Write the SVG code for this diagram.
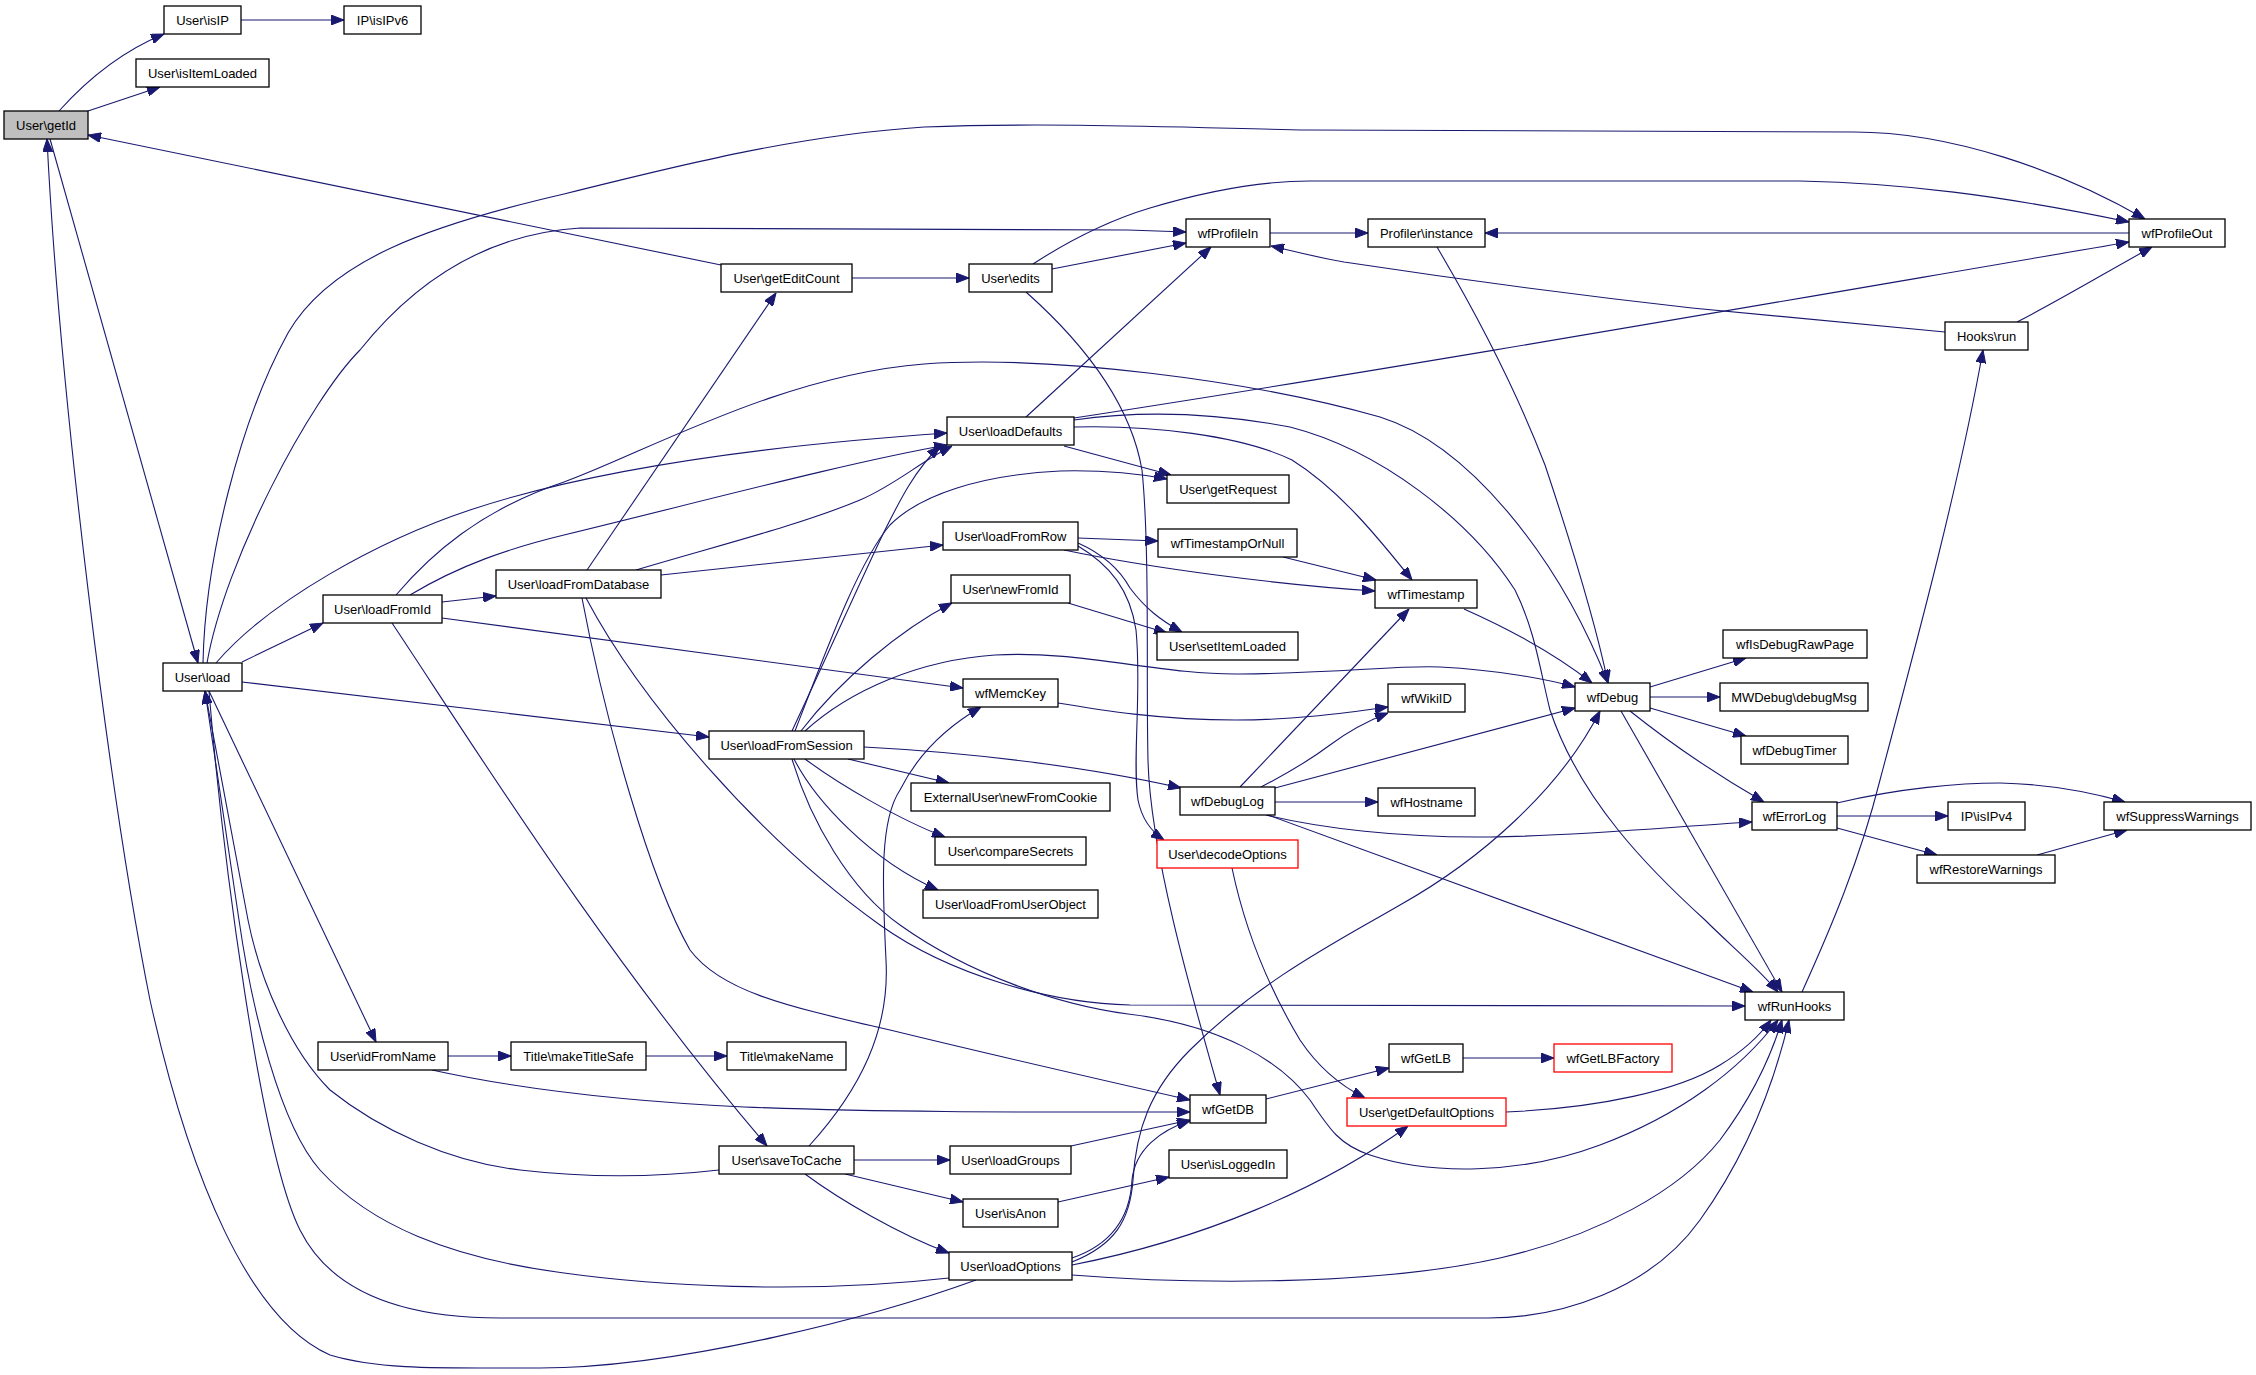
<svg xmlns="http://www.w3.org/2000/svg" width="2256" height="1375" viewBox="0 0 2256 1375">
<style>
.node rect{fill:#ffffff;stroke:#000000;stroke-width:1.3}
.node.root rect{fill:#bfbfbf}
.node.red rect{stroke:#ff0000}
.node text{font-family:"Liberation Sans",Arial,sans-serif;font-size:13px;fill:#000000;text-anchor:middle}
.edges path{fill:none;stroke:#191970;stroke-width:1.1;marker-end:url(#ah)}
</style>
<defs>
<marker id="ah" markerWidth="13" markerHeight="10" refX="13" refY="5" orient="auto" markerUnits="userSpaceOnUse" viewBox="0 0 13 10"><path d="M0,0 L13,5 L0,10 z" fill="#191970" stroke="#191970" stroke-width="1"/></marker>
</defs>
<rect x="0" y="0" width="2256" height="1375" fill="#ffffff"/>
<g class="edges" id="edges">
<path d="M59,111 C85,82 120,52 164,34"/>
<path d="M88,111 L160,87"/>
<path d="M50,139 L198,663"/>
<path d="M976,1280 C880,1315 680,1368 540,1368 C440,1368 380,1370 330,1355 C250,1320 190,1180 150,1000 C110,800 60,400 47,139"/>
<path d="M721,265 L88,135"/>
<path d="M203,663 C205,560 240,420 288,333 C330,260 430,225 564,194 C680,165 800,135 924,127 C1050,122 1200,128 1308,130 L1854,132 C1950,132 2060,170 2145,219"/>
<path d="M207,663 C225,560 310,400 360,350 C400,300 470,235 580,228 L1128,230 L1186,232"/>
<path d="M216,663 C270,600 380,540 470,510 C560,480 700,450 947,433"/>
<path d="M242,662 L323,623"/>
<path d="M242,682 L709,737"/>
<path d="M209,691 L376,1042"/>
<path d="M209,691 C222,850 260,1150 300,1230 C330,1290 400,1318 500,1318 L1488,1318 C1560,1318 1650,1290 1700,1220 C1750,1150 1775,1080 1789,1020"/>
<path d="M949,1278 C800,1295 650,1285 564,1273 C450,1258 370,1225 320,1170 C280,1125 252,1010 239,920 L205,691"/>
<path d="M719,1170 C650,1178 580,1177 520,1170 C450,1162 380,1130 330,1090 C290,1050 260,980 248,920 L205,691"/>
<path d="M442,602 L496,596"/>
<path d="M396,595 C430,555 480,510 564,482 C640,455 780,375 924,364 C1050,355 1250,380 1380,417 C1470,445 1560,560 1608,683"/>
<path d="M410,595 C460,565 510,548 564,535 C700,502 850,462 947,445"/>
<path d="M442,618 L963,688"/>
<path d="M392,623 C470,740 600,950 767,1146"/>
<path d="M587,570 L776,293"/>
<path d="M636,570 C720,545 800,525 860,500 C895,485 920,462 952,446"/>
<path d="M661,575 L943,545"/>
<path d="M582,598 C605,720 650,880 690,950 C720,990 780,1005 890,1030 C980,1052 1080,1075 1190,1100"/>
<path d="M586,598 C640,700 760,840 880,925 C950,975 1050,1003 1130,1005 L1745,1006"/>
<path d="M792,759 C810,820 850,890 900,925 C970,975 1060,1005 1128,1014 C1220,1025 1280,1060 1310,1100 C1330,1130 1340,1145 1370,1155 C1430,1175 1520,1175 1600,1145 C1680,1115 1740,1070 1778,1020"/>
<path d="M792,731 C830,650 870,560 885,530 C900,500 915,470 940,446"/>
<path d="M795,731 C830,640 860,560 890,525 C920,495 980,475 1060,471 C1100,470 1140,474 1167,479"/>
<path d="M801,731 C840,680 900,630 952,603"/>
<path d="M805,731 C850,690 920,660 995,655 C1080,650 1160,675 1240,674 C1340,673 1400,665 1440,667 C1500,670 1550,680 1575,687"/>
<path d="M864,747 C960,752 1080,765 1181,788"/>
<path d="M848,759 L949,783"/>
<path d="M805,759 C840,785 900,820 945,837"/>
<path d="M794,759 C815,800 870,860 938,890"/>
<path d="M809,1146 C860,1090 890,1030 886,960 C882,880 880,820 900,790 C920,750 950,725 981,707"/>
<path d="M854,1160 L950,1160"/>
<path d="M845,1174 L963,1202"/>
<path d="M805,1174 C840,1200 900,1235 949,1253"/>
<path d="M1071,1146 L1190,1120"/>
<path d="M1058,1202 L1169,1177"/>
<path d="M448,1056 L511,1056"/>
<path d="M646,1056 L727,1056"/>
<path d="M432,1070 C500,1085 600,1100 744,1107 C900,1113 1050,1112 1190,1112"/>
<path d="M1072,1258 C1110,1245 1130,1220 1132,1180 C1135,1150 1160,1130 1190,1121"/>
<path d="M1072,1262 C1115,1245 1130,1220 1133,1180 C1136,1130 1150,1090 1190,1050 C1260,980 1340,940 1400,905 C1480,860 1560,790 1600,711"/>
<path d="M1072,1265 C1200,1240 1320,1190 1408,1126"/>
<path d="M1072,1275 C1200,1285 1380,1285 1500,1258 C1600,1235 1680,1190 1720,1140 C1750,1100 1770,1060 1782,1020"/>
<path d="M1232,868 C1245,930 1270,990 1300,1040 C1320,1070 1345,1088 1365,1098"/>
<path d="M1506,1112 C1600,1108 1680,1090 1720,1065 C1745,1050 1760,1035 1771,1020"/>
<path d="M1266,1099 L1389,1068"/>
<path d="M1463,1058 L1554,1058"/>
<path d="M1026,292 C1080,340 1130,400 1142,470 C1150,550 1146,680 1148,760 C1150,850 1190,990 1220,1095"/>
<path d="M852,278 L969,278"/>
<path d="M1052,269 L1186,243"/>
<path d="M1033,264 C1070,240 1110,220 1150,208 C1210,190 1260,181 1310,181 L1800,181 C1900,183 2000,195 2129,222"/>
<path d="M1026,417 L1211,247"/>
<path d="M1074,418 C1400,368 1800,298 2129,242"/>
<path d="M1074,420 C1130,412 1200,410 1290,427 C1380,450 1470,520 1515,590 C1535,630 1540,670 1550,710 C1580,800 1650,870 1705,920 C1730,945 1760,970 1778,992"/>
<path d="M1064,446 L1171,475"/>
<path d="M1074,427 C1150,425 1240,435 1292,460 C1340,490 1380,540 1412,580"/>
<path d="M1270,233 L1368,233"/>
<path d="M2129,233 L1485,233"/>
<path d="M1437,247 C1480,320 1520,400 1545,465 C1570,540 1595,620 1608,683"/>
<path d="M1945,332 L1692,308 C1550,292 1430,275 1344,262 C1310,256 1290,250 1271,246"/>
<path d="M2017,322 C2060,300 2110,270 2152,247"/>
<path d="M1802,992 C1830,930 1860,860 1880,780 C1920,630 1960,480 1983,350"/>
<path d="M1283,557 L1376,580"/>
<path d="M1078,538 L1158,541"/>
<path d="M1064,550 C1150,568 1280,585 1375,591"/>
<path d="M1078,543 C1105,555 1120,570 1130,588 C1145,608 1160,620 1182,632"/>
<path d="M1068,603 L1167,633"/>
<path d="M1078,546 C1110,565 1130,590 1136,630 C1142,690 1132,760 1138,800 C1142,820 1152,832 1164,840"/>
<path d="M1464,609 C1500,625 1550,650 1592,683"/>
<path d="M1058,703 C1100,710 1160,720 1236,720 C1300,720 1350,712 1388,707"/>
<path d="M1261,787 C1290,772 1310,760 1330,745 C1350,730 1370,720 1388,713"/>
<path d="M1240,787 L1409,609"/>
<path d="M1275,788 L1575,708"/>
<path d="M1275,802 L1378,802"/>
<path d="M1266,815 C1320,828 1400,838 1490,837 C1580,836 1680,826 1752,822"/>
<path d="M1268,815 L1753,992"/>
<path d="M1650,687 L1746,658"/>
<path d="M1650,697 L1720,697"/>
<path d="M1650,708 L1746,736"/>
<path d="M1630,711 C1660,735 1700,765 1764,802"/>
<path d="M1621,711 L1782,992"/>
<path d="M1837,803 C1900,788 1960,783 2000,783 C2050,784 2090,792 2125,802"/>
<path d="M1837,816 L1948,816"/>
<path d="M1837,828 L1937,855"/>
<path d="M2037,855 L2127,830"/>
<path d="M241,20 L344,20"/>
</g>
<g id="n_getId" class="node root"><rect x="4" y="111" width="84" height="28"/><text x="46" y="129.5">User\getId</text></g>
<g id="n_isIP" class="node"><rect x="164" y="6" width="77" height="28"/><text x="202.5" y="24.5">User\isIP</text></g>
<g id="n_isIPv6" class="node"><rect x="344" y="6" width="77" height="28"/><text x="382.5" y="24.5">IP\isIPv6</text></g>
<g id="n_isItemLoaded" class="node"><rect x="136" y="59" width="133" height="28"/><text x="202.5" y="77.5">User\isItemLoaded</text></g>
<g id="n_load" class="node"><rect x="163" y="663" width="79" height="28"/><text x="202.5" y="681.5">User\load</text></g>
<g id="n_loadFromId" class="node"><rect x="323" y="595" width="119" height="28"/><text x="382.5" y="613.5">User\loadFromId</text></g>
<g id="n_loadFromDatabase" class="node"><rect x="496" y="570" width="165" height="28"/><text x="578.5" y="588.5">User\loadFromDatabase</text></g>
<g id="n_getEditCount" class="node"><rect x="721" y="264" width="131" height="28"/><text x="786.5" y="282.5">User\getEditCount</text></g>
<g id="n_edits" class="node"><rect x="969" y="264" width="83" height="28"/><text x="1010.5" y="282.5">User\edits</text></g>
<g id="n_loadDefaults" class="node"><rect x="947" y="417" width="127" height="28"/><text x="1010.5" y="435.5">User\loadDefaults</text></g>
<g id="n_wfProfileIn" class="node"><rect x="1186" y="219" width="84" height="28"/><text x="1228" y="237.5">wfProfileIn</text></g>
<g id="n_profilerInstance" class="node"><rect x="1368" y="219" width="117" height="28"/><text x="1426.5" y="237.5">Profiler\instance</text></g>
<g id="n_wfProfileOut" class="node"><rect x="2129" y="219" width="96" height="28"/><text x="2177" y="237.5">wfProfileOut</text></g>
<g id="n_hooksRun" class="node"><rect x="1945" y="322" width="83" height="28"/><text x="1986.5" y="340.5">Hooks\run</text></g>
<g id="n_loadFromRow" class="node"><rect x="943" y="522" width="135" height="28"/><text x="1010.5" y="540.5">User\loadFromRow</text></g>
<g id="n_newFromId" class="node"><rect x="951" y="575" width="119" height="28"/><text x="1010.5" y="593.5">User\newFromId</text></g>
<g id="n_wfMemcKey" class="node"><rect x="963" y="679" width="95" height="28"/><text x="1010.5" y="697.5">wfMemcKey</text></g>
<g id="n_loadFromSession" class="node"><rect x="709" y="731" width="155" height="28"/><text x="786.5" y="749.5">User\loadFromSession</text></g>
<g id="n_newFromCookie" class="node"><rect x="911" y="783" width="199" height="28"/><text x="1010.5" y="801.5">ExternalUser\newFromCookie</text></g>
<g id="n_compareSecrets" class="node"><rect x="935" y="837" width="151" height="28"/><text x="1010.5" y="855.5">User\compareSecrets</text></g>
<g id="n_loadFromUserObject" class="node"><rect x="923" y="890" width="175" height="28"/><text x="1010.5" y="908.5">User\loadFromUserObject</text></g>
<g id="n_getRequest" class="node"><rect x="1167" y="475" width="122" height="28"/><text x="1228" y="493.5">User\getRequest</text></g>
<g id="n_wfTimestampOrNull" class="node"><rect x="1158" y="529" width="139" height="28"/><text x="1227.5" y="547.5">wfTimestampOrNull</text></g>
<g id="n_wfTimestamp" class="node"><rect x="1375" y="580" width="102" height="28"/><text x="1426" y="598.5">wfTimestamp</text></g>
<g id="n_setItemLoaded" class="node"><rect x="1157" y="632" width="141" height="28"/><text x="1227.5" y="650.5">User\setItemLoaded</text></g>
<g id="n_wfWikiID" class="node"><rect x="1388" y="684" width="77" height="28"/><text x="1426.5" y="702.5">wfWikiID</text></g>
<g id="n_wfDebug" class="node"><rect x="1575" y="683" width="75" height="28"/><text x="1612.5" y="701.5">wfDebug</text></g>
<g id="n_wfDebugLog" class="node"><rect x="1180" y="787" width="95" height="28"/><text x="1227.5" y="805.5">wfDebugLog</text></g>
<g id="n_wfHostname" class="node"><rect x="1378" y="788" width="97" height="28"/><text x="1426.5" y="806.5">wfHostname</text></g>
<g id="n_decodeOptions" class="node red"><rect x="1157" y="840" width="141" height="28"/><text x="1227.5" y="858.5">User\decodeOptions</text></g>
<g id="n_wfIsDebugRawPage" class="node"><rect x="1723" y="630" width="144" height="28"/><text x="1795" y="648.5">wfIsDebugRawPage</text></g>
<g id="n_debugMsg" class="node"><rect x="1720" y="683" width="148" height="28"/><text x="1794" y="701.5">MWDebug\debugMsg</text></g>
<g id="n_wfDebugTimer" class="node"><rect x="1741" y="736" width="107" height="28"/><text x="1794.5" y="754.5">wfDebugTimer</text></g>
<g id="n_wfErrorLog" class="node"><rect x="1752" y="802" width="85" height="28"/><text x="1794.5" y="820.5">wfErrorLog</text></g>
<g id="n_isIPv4" class="node"><rect x="1948" y="802" width="77" height="28"/><text x="1986.5" y="820.5">IP\isIPv4</text></g>
<g id="n_wfSuppressWarnings" class="node"><rect x="2104" y="802" width="147" height="28"/><text x="2177.5" y="820.5">wfSuppressWarnings</text></g>
<g id="n_wfRestoreWarnings" class="node"><rect x="1917" y="855" width="138" height="28"/><text x="1986" y="873.5">wfRestoreWarnings</text></g>
<g id="n_idFromName" class="node"><rect x="318" y="1042" width="130" height="28"/><text x="383" y="1060.5">User\idFromName</text></g>
<g id="n_makeTitleSafe" class="node"><rect x="511" y="1042" width="135" height="28"/><text x="578.5" y="1060.5">Title\makeTitleSafe</text></g>
<g id="n_makeName" class="node"><rect x="727" y="1042" width="119" height="28"/><text x="786.5" y="1060.5">Title\makeName</text></g>
<g id="n_saveToCache" class="node"><rect x="719" y="1146" width="135" height="28"/><text x="786.5" y="1164.5">User\saveToCache</text></g>
<g id="n_loadGroups" class="node"><rect x="950" y="1146" width="121" height="28"/><text x="1010.5" y="1164.5">User\loadGroups</text></g>
<g id="n_isAnon" class="node"><rect x="963" y="1199" width="95" height="28"/><text x="1010.5" y="1217.5">User\isAnon</text></g>
<g id="n_loadOptions" class="node"><rect x="949" y="1252" width="123" height="28"/><text x="1010.5" y="1270.5">User\loadOptions</text></g>
<g id="n_wfGetDB" class="node"><rect x="1190" y="1095" width="76" height="28"/><text x="1228" y="1113.5">wfGetDB</text></g>
<g id="n_isLoggedIn" class="node"><rect x="1169" y="1150" width="118" height="28"/><text x="1228" y="1168.5">User\isLoggedIn</text></g>
<g id="n_wfGetLB" class="node"><rect x="1389" y="1044" width="74" height="28"/><text x="1426" y="1062.5">wfGetLB</text></g>
<g id="n_wfGetLBFactory" class="node red"><rect x="1554" y="1044" width="118" height="28"/><text x="1613" y="1062.5">wfGetLBFactory</text></g>
<g id="n_getDefaultOptions" class="node red"><rect x="1347" y="1098" width="159" height="28"/><text x="1426.5" y="1116.5">User\getDefaultOptions</text></g>
<g id="n_wfRunHooks" class="node"><rect x="1745" y="992" width="99" height="28"/><text x="1794.5" y="1010.5">wfRunHooks</text></g>
</svg>
